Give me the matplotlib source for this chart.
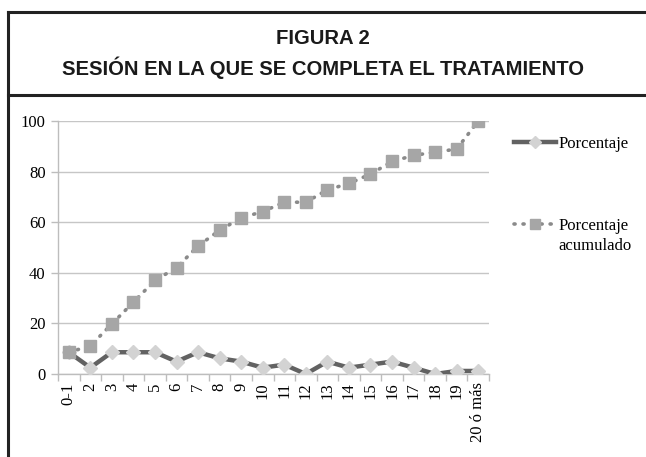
"""Figura 2: sesión en la que se completa el tratamiento."""

import matplotlib
matplotlib.use("Agg")
import matplotlib.pyplot as plt
from matplotlib.lines import Line2D

sesiones = ["0-1", "2", "3", "4", "5", "6", "7", "8", "9", "10",
            "11", "12", "13", "14", "15", "16", "17", "18", "19", "20 ó más"]
porcentaje = [8.6, 2.5, 8.6, 8.6, 8.6, 4.9, 8.6, 6.2, 4.9, 2.5,
              3.7, 0.0, 4.9, 2.5, 3.7, 4.9, 2.5, 0.0, 1.2, 1.2]
acumulado = [8.6, 11.1, 19.8, 28.4, 37.0, 42.0, 50.6, 56.8, 61.7, 64.2,
             67.9, 67.9, 72.8, 75.3, 79.0, 84.0, 86.4, 87.7, 88.9, 100.0]
yticks = [0, 20, 40, 60, 80, 100]

SERIF = "Liberation Serif"

fig = plt.figure(figsize=(6.46, 4.57), dpi=100)
fig.patch.set_facecolor("white")

# frame of the figure box
fig.add_artist(Line2D([8 / 646, 1.0], [1 - 12 / 457, 1 - 12 / 457],
                      color="#222222", lw=2.2, transform=fig.transFigure))
fig.add_artist(Line2D([8 / 646, 1.0], [1 - 95 / 457, 1 - 95 / 457],
                      color="#222222", lw=2.2, transform=fig.transFigure))
fig.add_artist(Line2D([8 / 646, 8 / 646], [0.0, 1 - 12 / 457],
                      color="#222222", lw=2.2, transform=fig.transFigure))

title_font = dict(family="Liberation Sans", weight="bold", size=14.6,
                  color="#1a1a1a", ha="center")
fig.text(0.5, 1 - 39 / 457, "FIGURA 2", va="center", **title_font)
fig.text(0.5, 1 - 67.5 / 457, "SESIÓN EN LA QUE SE COMPLETA EL TRATAMIENTO",
         va="center", **title_font)

ax = fig.add_axes([58 / 646, 83 / 457, 431 / 646, 253 / 457])
x = list(range(len(sesiones)))

ax.plot(x, porcentaje, color="#626262", lw=3.2, marker="D", markersize=7,
        markerfacecolor="#d3d3d3", markeredgecolor="#d3d3d3",
        label="Porcentaje", zorder=3)
ax.plot(x, acumulado, color="#8a8a8a", lw=2.6, linestyle=(0, (0.3, 2.2)),
        dash_capstyle="round", marker="s", markersize=8.5,
        markerfacecolor="#a6a6a6", markeredgecolor="#a6a6a6",
        label="Porcentaje\nacumulado", zorder=3)

ax.set_xlim(-0.5, len(sesiones) - 0.5)
ax.set_ylim(0, 100)
ax.set_yticks(yticks)
ax.set_yticklabels([str(v) for v in yticks], fontfamily=SERIF, fontsize=12)
ax.set_xticks(x)
ax.set_xticklabels(sesiones, rotation=90, fontfamily=SERIF, fontsize=12)
ax.set_xticks([i - 0.5 for i in range(len(sesiones) + 1)], minor=True)
ax.tick_params(axis="x", which="major", length=0, pad=6)
ax.tick_params(axis="x", which="minor", length=5, color="#bdbdbd", width=1)
ax.tick_params(axis="y", length=5, color="#bdbdbd", width=1, pad=4)
ax.grid(axis="y", color="#c6c6c6", lw=1)
ax.set_axisbelow(True)
for side in ["top", "right"]:
    ax.spines[side].set_visible(False)
for side in ["left", "bottom"]:
    ax.spines[side].set_color("#bdbdbd")
    ax.spines[side].set_linewidth(1)

leg = ax.legend(loc="upper left", bbox_to_anchor=(499 / 646, 1 - 121 / 457),
                bbox_transform=fig.transFigure, frameon=False,
                prop={"family": SERIF, "size": 12}, handlelength=2.5,
                handletextpad=0.18, labelspacing=3.96, markerscale=0.9)
# keep the handle level with the first line of a two-line label
for column in leg._legend_handle_box.get_children():
    for row in column.get_children():
        row.align = "top"
for text in leg.get_texts():
    text.set_linespacing(1.35)

fig.savefig("out.png", dpi=100)
